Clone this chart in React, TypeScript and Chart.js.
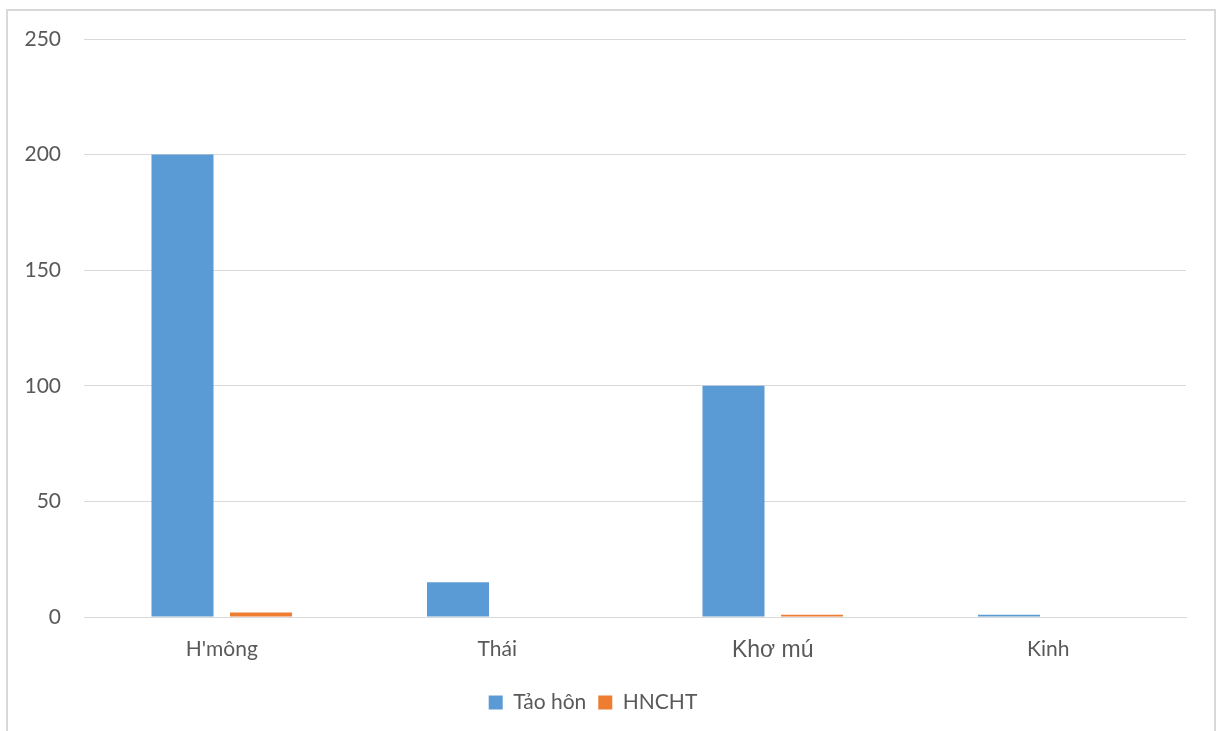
import React, { useEffect, useRef } from "react";
import { Chart, registerables } from "chart.js";

Chart.register(...registerables);

const categories = ["H'mông", "Thái", "Khơ mú", "Kinh"];
const taoHon = [200, 15, 100, 1];
const hncht = [2, 0, 1, 0];
const seriesNames = ["Tảo hôn", "HNCHT"];

export default function App() {
  const ref = useRef<HTMLCanvasElement | null>(null);
  useEffect(() => {
    if (!ref.current) return;
    const chart = new Chart(ref.current, {
      type: "bar",
      data: {
        labels: categories,
        datasets: [
          { label: seriesNames[0], data: taoHon, backgroundColor: "#5B9BD5", categoryPercentage: 0.57, barPercentage: 0.79 },
          { label: seriesNames[1], data: hncht, backgroundColor: "#ED7D31", categoryPercentage: 0.57, barPercentage: 0.79 },
        ],
      },
      options: {
        animation: false,
        responsive: false,
        layout: { padding: { top: 39, right: 30, bottom: 8, left: 0 } },
        plugins: {
          legend: {
            position: "bottom",
            labels: {
              boxWidth: 14,
              boxHeight: 14,
              padding: 12,
              color: "#595959",
              font: { family: "Lato", size: 21 },
            },
          },
          tooltip: { enabled: false },
        },
        scales: {
          x: {
            grid: { display: false, drawTicks: false },
            border: { display: true, color: "#d9d9d9", width: 1 },
            ticks: {
              color: "#595959",
              padding: 20,
              maxRotation: 0,
              font: (ctx: any) =>
                ctx.index === 2
                  ? { family: "Liberation Sans", size: 23 }
                  : { family: "Lato", size: 21 },
            },
            afterFit: (s: any) => {
              s.height = 63;
            },
          },
          y: {
            min: 0,
            max: 250,
            grid: { color: "#d9d9d9", drawTicks: false },
            border: { display: false },
            ticks: {
              stepSize: 50,
              color: "#595959",
              padding: 23,
              font: { family: "Lato", size: 21 },
            },
            afterFit: (s: any) => {
              s.width = 84;
            },
          },
        },
      },
    });
    return () => chart.destroy();
  }, []);
  return (
    <div style={{ position: "absolute", left: 0, top: 0, width: 1216, height: 731, overflow: "hidden", background: "#fff" }}>
      <div
        style={{
          position: "absolute",
          left: 6,
          top: 9,
          width: 1206,
          height: 740,
          border: "2px solid #d9d9d9",
        }}
      />
      <canvas ref={ref} width={1216} height={731} style={{ position: "absolute", left: 0, top: 0 }} />
    </div>
  );
}
